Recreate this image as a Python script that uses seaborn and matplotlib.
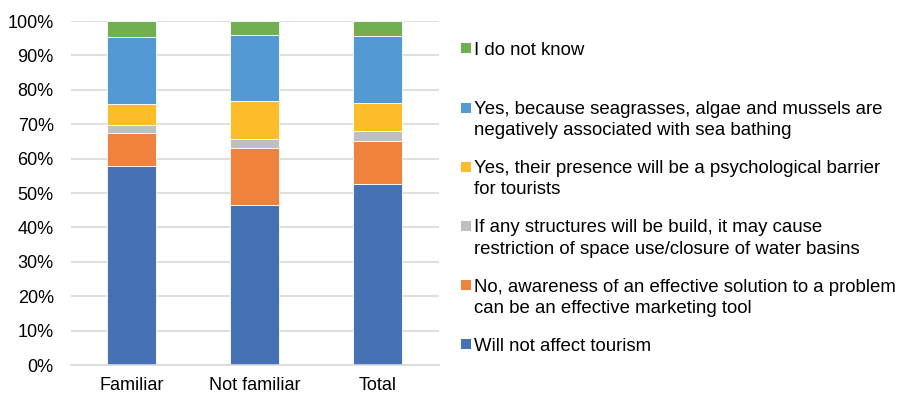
import matplotlib
matplotlib.use("Agg")
import matplotlib.pyplot as plt
import seaborn as sns
import pandas as pd
import numpy as np
from matplotlib.patches import Rectangle
from matplotlib.ticker import PercentFormatter

sns.set_theme(style="white")
plt.rcParams["font.family"] = ["Liberation Sans", "DejaVu Sans"]

# Survey groups and answer shares (%), stacked bottom to top
groups = ["Familiar", "Not familiar", "Total"]
answers = [
    "Will not affect tourism",
    "No, awareness of an effective solution to a problem\ncan be an effective marketing tool",
    "If any structures will be build, it may cause\nrestriction of space use/closure of water basins",
    "Yes, their presence will be a psychological barrier\nfor tourists",
    "Yes, because seagrasses, algae and mussels are\nnegatively associated with sea bathing",
    "I do not know",
]
will_not_affect = [57.8, 46.5, 52.5]
marketing_tool = [9.6, 16.5, 12.7]
space_restriction = [2.3, 2.6, 2.7]
psychological_barrier = [6.1, 11.1, 8.3]
negative_association = [19.5, 19.1, 19.4]
do_not_know = [4.7, 4.2, 4.4]
colors = ["#4472B4", "#EF823C", "#BFBFBF", "#FDBD2A", "#5399D3", "#70B050"]

series = [will_not_affect, marketing_tool, space_restriction,
          psychological_barrier, negative_association, do_not_know]

fig = plt.figure(figsize=(8.99, 3.96), dpi=100)
ax = fig.add_axes([70.5 / 899, 1 - 365 / 396, (439 - 70.5) / 899, (365 - 21) / 396])

bottom = np.zeros(len(groups))
for vals, col, lab in zip(series, colors, answers):
    df = pd.DataFrame({"group": groups, "share": vals})
    sns.barplot(data=df, x="group", y="share", bottom=bottom, color=col,
                width=0.4, edgecolor="white", linewidth=0.6, ax=ax, saturation=1)
    bottom = bottom + np.array(vals)

ax.set_ylim(0, 100)
ax.set_xlim(-0.5, 2.5)
ax.set_yticks(np.arange(0, 101, 10))
ax.yaxis.set_major_formatter(PercentFormatter(decimals=0))
ax.yaxis.grid(True, color="#D9D9D9", linewidth=1.2)
ax.set_axisbelow(True)
for s in ["top", "right", "left"]:
    ax.spines[s].set_visible(False)
ax.spines["bottom"].set_color("#D9D9D9")
ax.spines["bottom"].set_linewidth(1.2)
ax.set_xlabel("")
ax.set_ylabel("")
ax.tick_params(axis="both", length=0, labelsize=13, colors="#000000")
ax.tick_params(axis="y", pad=12)
ax.tick_params(axis="x", pad=9)

# Legend on the right, top entry first
W, H = 899, 396
y0, step = 48.3, 59.2
for i, (lab, col) in enumerate(zip(answers[::-1], colors[::-1])):
    yc = y0 + i * step
    fig.patches.append(Rectangle((461 / W, 1 - (yc + 5) / H), 10 / W, 10 / H,
                                 transform=fig.transFigure, facecolor=col,
                                 edgecolor="none"))
    for j, line in enumerate(lab.split("\n")):
        fig.text(474 / W, 1 - (yc + j * 21.3) / H, line, fontsize=13.4,
                 va="center_baseline", ha="left", color="#000000")

fig.savefig("out.png", dpi=100)
